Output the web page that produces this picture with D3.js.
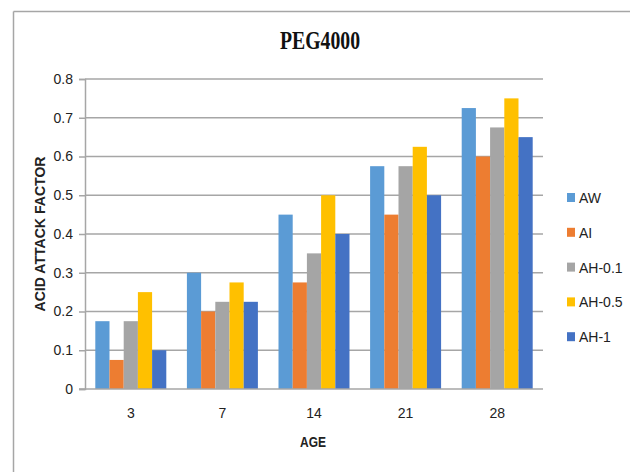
<!DOCTYPE html>
<html>
<head>
<meta charset="utf-8">
<script src="https://cdn.jsdelivr.net/npm/d3@7"></script>
<style>
  html, body { margin: 0; padding: 0; background: #fff; }
  svg { display: block; }
</style>
</head>
<body>
<div id="chart"></div>
<script>
// Ages (days) on the category axis
const ages = ["3", "7", "14", "21", "28"];
// Exposure series
const seriesNames = ["AW", "AI", "AH-0.1", "AH-0.5", "AH-1"];
const seriesColors = ["#5B9BD5", "#ED7D31", "#A5A5A5", "#FFC000", "#4472C4"];
// Acid attack factor per series, one value per age
const valuesAW   = [0.175, 0.30, 0.45, 0.575, 0.725];
const valuesAI   = [0.075, 0.20, 0.275, 0.45, 0.60];
const valuesAH01 = [0.175, 0.225, 0.35, 0.575, 0.675];
const valuesAH05 = [0.25, 0.275, 0.50, 0.625, 0.75];
const valuesAH1  = [0.10, 0.225, 0.40, 0.50, 0.65];
const yTicks = [0, 0.1, 0.2, 0.3, 0.4, 0.5, 0.6, 0.7, 0.8];

const seriesValues = [valuesAW, valuesAI, valuesAH01, valuesAH05, valuesAH1];
const rows = ages.map((a, i) => ({
  age: a,
  bars: seriesNames.map((s, j) => ({ series: s, value: seriesValues[j][i], color: seriesColors[j] }))
}));

const W = 630, H = 472;
const plot = { left: 85, right: 543, top: 79, bottom: 389 };

const svg = d3.select("#chart").append("svg").attr("width", W).attr("height", H);

// chart frame (top and left edges visible)
svg.append("line").attr("x1", 13.5).attr("x2", W).attr("y1", 11.5).attr("y2", 11.5)
  .attr("stroke", "#a6a6a6").attr("stroke-width", 1.5);
svg.append("line").attr("x1", 13.5).attr("x2", 13.5).attr("y1", 11.5).attr("y2", H)
  .attr("stroke", "#a6a6a6").attr("stroke-width", 1.5);

const x0 = d3.scaleBand().domain(ages).range([plot.left, plot.right])
  .paddingInner(0.225).paddingOuter(0.1125);
const x1 = d3.scaleBand().domain(seriesNames).range([0, x0.bandwidth()]).padding(0);
const y = d3.scaleLinear().domain([0, 0.8]).range([plot.bottom, plot.top]);

// horizontal gridlines
svg.append("g").selectAll("line").data(yTicks.filter(t => t > 0)).join("line")
  .attr("x1", plot.left).attr("x2", plot.right)
  .attr("y1", d => y(d)).attr("y2", d => y(d))
  .attr("stroke", "#a6a6a6").attr("stroke-width", 1.5);

// bars
const groups = svg.append("g").selectAll("g").data(rows).join("g")
  .attr("transform", d => `translate(${x0(d.age)},0)`);
groups.selectAll("rect").data(d => d.bars).join("rect")
  .attr("x", d => x1(d.series))
  .attr("width", x1.bandwidth())
  .attr("y", d => y(d.value))
  .attr("height", d => y(0) - y(d.value))
  .attr("fill", d => d.color);

// y axis
const yAxis = d3.axisLeft(y).tickValues(yTicks).tickSize(6).tickPadding(6)
  .tickFormat(d => d === 0 ? "0" : d3.format(".1f")(d));
const gy = svg.append("g").attr("transform", `translate(${plot.left},0)`).call(yAxis);
gy.select(".domain").attr("stroke", "#a6a6a6").attr("stroke-width", 1.5);
gy.selectAll(".tick line").attr("stroke", "#a6a6a6").attr("stroke-width", 1.5);
gy.selectAll(".tick text").attr("font-family", "Liberation Sans, Arial, sans-serif")
  .attr("font-size", 14).attr("fill", "#222");

// x axis baseline
svg.append("line").attr("x1", plot.left - 6).attr("x2", plot.right)
  .attr("y1", y(0)).attr("y2", y(0)).attr("stroke", "#a6a6a6").attr("stroke-width", 1.5);

// x tick labels
svg.append("g").selectAll("text").data(ages).join("text")
  .attr("x", d => x0(d) + x0.bandwidth() / 2)
  .attr("y", 418)
  .attr("text-anchor", "middle")
  .attr("font-family", "Liberation Sans, Arial, sans-serif")
  .attr("font-size", 14).attr("fill", "#222")
  .text(d => d);

// title
svg.append("text").attr("x", 320).attr("y", 49).attr("text-anchor", "middle")
  .attr("font-family", "Liberation Serif, Times New Roman, serif")
  .attr("font-weight", "bold").attr("font-size", 26)
  .attr("textLength", 80).attr("lengthAdjust", "spacingAndGlyphs")
  .attr("fill", "#111").text("PEG4000");

// axis titles
svg.append("text").attr("x", 313).attr("y", 447).attr("text-anchor", "middle")
  .attr("font-family", "Liberation Sans, Arial, sans-serif")
  .attr("font-weight", "bold").attr("font-size", 14)
  .attr("textLength", 26).attr("lengthAdjust", "spacingAndGlyphs")
  .attr("fill", "#222").text("AGE");

svg.append("text").attr("transform", "translate(45,234) rotate(-90)")
  .attr("text-anchor", "middle")
  .attr("font-family", "Liberation Sans, Arial, sans-serif")
  .attr("font-weight", "bold").attr("font-size", 14)
  .attr("textLength", 155).attr("lengthAdjust", "spacingAndGlyphs")
  .attr("fill", "#222").text("ACID ATTACK FACTOR");

// legend
const legend = svg.append("g").selectAll("g").data(seriesNames).join("g")
  .attr("transform", (d, i) => `translate(567,${198 + i * 34.8})`);
legend.append("rect").attr("x", 0).attr("y", -5).attr("width", 8).attr("height", 9)
  .attr("fill", (d, i) => seriesColors[i]);
legend.append("text").attr("x", 12).attr("y", 5)
  .attr("font-family", "Liberation Sans, Arial, sans-serif")
  .attr("font-size", 14).attr("fill", "#222")
  .text(d => d);
</script>
</body>
</html>
